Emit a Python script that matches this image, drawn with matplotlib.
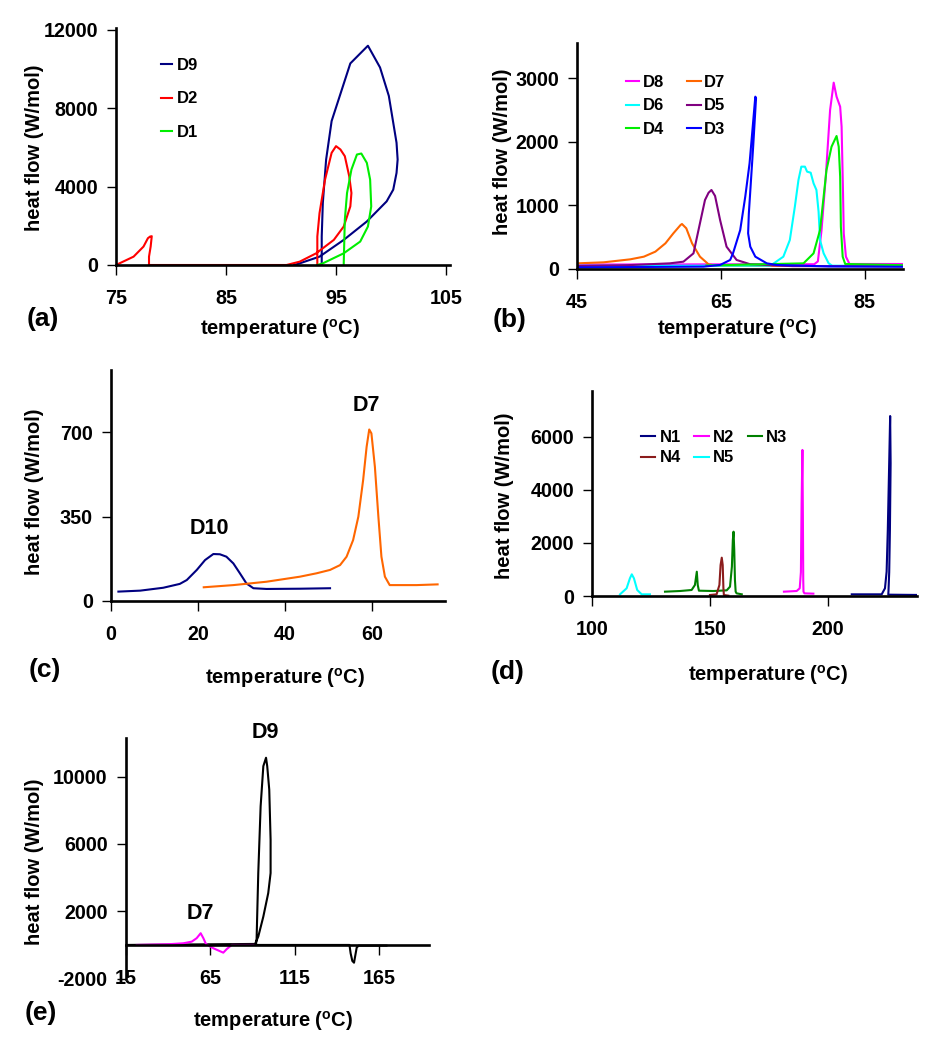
import matplotlib
matplotlib.use('Agg')
import matplotlib.pyplot as plt

plt.rcParams['font.family'] = 'Liberation Sans'
plt.rcParams['font.weight'] = 'bold'
plt.rcParams['mathtext.fontset'] = 'custom'
plt.rcParams['mathtext.rm'] = 'Liberation Sans:bold'
plt.rcParams['mathtext.bf'] = 'Liberation Sans:bold'
plt.rcParams['mathtext.it'] = 'Liberation Sans:bold'
plt.rcParams['axes.unicode_minus'] = False

W, H = 951, 1050

# ---- panel (a) ----
a_d9_t = [91.2, 91.7, 93.5, 95.7, 97.8, 99.6, 100.2, 100.5, 100.6, 100.5, 100.2, 99.8, 99.0, 97.9,
          96.3, 94.6, 94.1, 93.8, 93.7, 93.7]
a_d9_q = [0, 85, 427, 1282, 2222, 3248, 3846, 4701, 5385, 6241, 7266, 8632, 10085, 11195,
          10292, 7351, 5385, 3164, 1453, 0]
a_d2_t = [75.0, 76.6, 77.5, 77.9, 78.1, 78.25, 78.15, 78.0, 78.0, 90.5, 91.7, 93.2, 94.8, 95.7,
          96.3, 96.4, 96.2, 95.8, 95.4, 95.0, 94.6, 94.0, 93.5, 93.3, 93.3]
a_d2_q = [0, 427, 940, 1367, 1453, 1470, 940, 427, 0, 0, 171, 598, 1282, 1966,
          2991, 3675, 4530, 5556, 5897, 6068, 5727, 4359, 2650, 1453, 0]
a_d1_t = [93.3, 93.8, 95.7, 97.2, 97.9, 98.2, 98.1, 97.8, 97.3, 96.9, 96.4, 96.0, 95.8, 95.7, 95.7]
a_d1_q = [0, 85, 598, 1197, 1966, 2991, 4359, 5215, 5692, 5641, 4872, 3675, 2308, 85, 0]

# ---- panel (b) ----
b_d8_t = [45, 78.0, 78.5, 79.0, 79.6, 80.2, 80.7, 81.1, 81.6, 81.8, 82.0, 82.1, 82.4, 82.9, 90.2]
b_d8_q = [70, 75, 120, 600, 1452, 2501, 2931, 2711, 2553, 2239, 1191, 561, 194, 79, 79]
b_d7_t = [45, 48.7, 52.4, 54.3, 55.9, 57.3, 58.4, 59.4, 59.6, 60.2, 61.0, 62.1, 63.3, 64.4, 70, 75]
b_d7_q = [89, 105, 152, 194, 273, 404, 561, 692, 708, 640, 404, 194, 73, 52, 50, 50]
b_d6_t = [45, 71.9, 73.7, 74.6, 75.3, 75.8, 76.2, 76.7, 77.0, 77.5, 77.9, 78.3, 78.6, 78.8,
          79.3, 80.0, 80.5, 90.2]
b_d6_q = [52, 52, 194, 456, 981, 1400, 1610, 1610, 1531, 1515, 1348, 1243, 900, 456,
          247, 89, 52, 50]
b_d5_t = [45, 52, 57.9, 59.8, 61.2, 62.1, 62.8, 63.3, 63.7, 64.2, 64.9, 65.8, 67.2, 69.1, 75, 90.2]
b_d5_q = [47, 60, 89, 115, 246, 719, 1085, 1200, 1243, 1150, 771, 351, 142, 74, 45, 45]
b_d4_t = [63, 76.5, 77.9, 78.8, 79.7, 80.4, 81.1, 81.4, 81.6, 81.7, 81.95, 82.3, 90.2]
b_d4_q = [55, 89, 246, 613, 1557, 1924, 2092, 1924, 1452, 665, 194, 79, 60]
b_d3_t = [45, 62.6, 64.9, 66.3, 66.7, 67.7, 68.4, 69.0, 69.4, 69.8, 69.9, 69.5, 69.2, 68.9,
          68.8, 69.1, 69.8, 71.4, 72.8, 80, 90.2]
b_d3_q = [26, 37, 63, 142, 247, 613, 1137, 1662, 2187, 2711, 2685, 1924, 1400, 876,
          561, 351, 194, 89, 63, 40, 35]

# ---- panel (c) ----
c_d10_t = [1.7, 6.7, 12.0, 15.8, 17.4, 19.7, 21.6, 23.5, 25.0, 26.5, 28.1, 29.6, 31.1, 32.7,
           35.7, 43.4, 50.3]
c_d10_q = [39, 43, 55, 71, 87, 129, 170, 195, 194, 184, 156, 115, 73, 53, 50, 51, 53]
c_d7_t = [21.3, 28.1, 35.7, 43.4, 47.2, 50.3, 52.6, 54.1, 55.6, 56.8, 57.9, 58.7, 59.3, 59.8,
          60.6, 61.4, 62.1, 62.9, 64.0, 70.2, 75.0]
c_d7_q = [57, 66, 80, 101, 115, 129, 149, 184, 253, 350, 502, 640, 712, 696,
          557, 350, 184, 101, 66, 66, 69]

# ---- panel (d) ----
d_n1_t = [210.3, 223.0, 224.4, 225.1, 225.6, 226.1, 226.6, 226.8, 226.5, 226.2, 225.9, 225.8, 237.9]
d_n1_q = [63, 63, 290, 915, 2485, 4618, 6777, 5000, 2485, 900, 200, 50, 40]
d_n2_t = [181.5, 186.9, 188.2, 188.7, 189.0, 189.35, 189.55, 189.7, 189.8, 190.2, 194.0]
d_n2_q = [163, 188, 290, 900, 3500, 5500, 3000, 600, 163, 100, 88]
d_n3_t = [131.0, 137.4, 142.3, 143.7, 144.5, 144.9, 145.4, 151.5, 157.2, 158.6, 159.4, 159.8,
          160.1, 160.4, 160.7, 161.0, 161.4, 163.6]
d_n3_q = [163, 188, 226, 414, 915, 414, 200, 188, 213, 351, 1104, 2108,
          2422, 1732, 602, 163, 100, 63]
d_n4_t = [150.1, 152.9, 154.1, 154.6, 155.1, 155.5, 155.8, 156.0, 157.9]
d_n4_q = [38, 63, 414, 1167, 1443, 1167, 290, 38, 13]
d_n5_t = [111.9, 114.7, 116.1, 116.9, 117.8, 119.2, 121.1, 124.6]
d_n5_q = [63, 290, 667, 817, 667, 226, 63, 63]

# ---- panel (e) ----
e_d9_t = [15, 91.6, 93.5, 96.5, 99.4, 100.8, 100.8, 100.0, 98.8, 98.1, 96.5, 94.9, 93.5, 92.5,
          92.1, 147.5, 148.2, 149.2, 150.2, 151.0, 151.8, 153.0, 169.4]
e_d9_q = [0, 60, 497, 1687, 3081, 4273, 6258, 9238, 10627, 11127, 10627, 8243, 4273, 298,
          0, 0, -500, -950, -1055, -600, -150, -40, -40]
e_d7_t = [21.5, 40, 49.1, 54.1, 57.0, 59.4, 61.0, 62.5, 66.9, 72.8, 74.8, 77.8, 90.6]
e_d7_q = [0, 40, 99, 197, 400, 697, 400, 60, -197, -459, -248, 0, 0]

LW = 1.5
xlab = r'temperature ($^{\mathbf{o}}$C)'
ylab = 'heat flow (W/mol)'

fig = plt.figure(figsize=(W / 100, H / 100), dpi=100)


def make_ax(left, right, bottom, top):
    return fig.add_axes([left / W, 1 - bottom / H, (right - left) / W, (bottom - top) / H])


def style(ax, xlim, ylim, xticks, yticks):
    ax.set_xlim(xlim)
    ax.set_ylim(ylim)
    ax.set_xticks(xticks)
    ax.set_yticks(yticks)
    for s in ['top', 'right']:
        ax.spines[s].set_visible(False)
    for s in ['left', 'bottom']:
        ax.spines[s].set_linewidth(1.9)
    ax.tick_params(axis='x', direction='out', length=7, width=1, pad=10, labelsize=14.2)
    ax.tick_params(axis='y', direction='out', length=6.5, width=1, pad=6.5, labelsize=14.2)
    ax.patch.set_alpha(0)


def ftext(x, y, s, size=14.5, **kw):
    fig.text(x / W, 1 - y / H, s, ha='center', va='center', fontsize=size, fontweight='bold', **kw)


def leg(ax, handles, labels, x, y, **kw):
    ax.legend(handles, labels, loc='upper left', bbox_to_anchor=(x / W, 1 - y / H),
              bbox_transform=fig.transFigure, frameon=False, borderpad=0, borderaxespad=0,
              prop={'weight': 'bold', 'size': 12}, **kw)


# (a)
ax = make_ax(116, 450, 265, 28)
l9, = ax.plot(a_d9_t, a_d9_q, color='#000080', lw=LW)
l2, = ax.plot(a_d2_t, a_d2_q, color='#FF0000', lw=LW)
l1, = ax.plot(a_d1_t, a_d1_q, color='#00EE00', lw=LW)
style(ax, (75, 105.36), (0, 12100), [75, 85, 95, 105], [0, 4000, 8000, 12000])
leg(ax, [l9, l2, l1], ['D9', 'D2', 'D1'], 161, 58,
    handlelength=0.68, handletextpad=0.28, labelspacing=1.1)
ftext(35, 148, ylab, rotation=90)
ftext(280, 329, xlab)
ftext(43, 319, '(a)', size=19)

# (b)
ax = make_ax(577, 903, 269, 43)
p8, = ax.plot(b_d8_t, b_d8_q, color='#FF00FF', lw=LW)
p7, = ax.plot(b_d7_t, b_d7_q, color='#FF6600', lw=LW)
p6, = ax.plot(b_d6_t, b_d6_q, color='#00FFFF', lw=LW)
p5, = ax.plot(b_d5_t, b_d5_q, color='#800080', lw=LW)
p4, = ax.plot(b_d4_t, b_d4_q, color='#00EE00', lw=LW)
p3, = ax.plot(b_d3_t, b_d3_q, color='#0000FF', lw=LW)
style(ax, (45, 90.34), (0, 3555), [45, 65, 85], [0, 1000, 2000, 3000])
leg(ax, [p8, p6, p4, p7, p5, p3], ['D8', 'D6', 'D4', 'D7', 'D5', 'D3'], 626, 75,
    ncol=2, handlelength=0.8, handletextpad=0.2, labelspacing=0.5, columnspacing=1.4)
ftext(503, 152, ylab, rotation=90)
ftext(737, 329, xlab)
ftext(510, 320, '(b)', size=19)

# (c)
ax = make_ax(111, 445, 601, 370)
ax.plot(c_d10_t, c_d10_q, color='#000080', lw=LW)
ax.plot(c_d7_t, c_d7_q, color='#FF6600', lw=LW)
style(ax, (0, 76.7), (0, 959), [0, 20, 40, 60], [0, 350, 700])
ax.text(22.5, 303, 'D10', ha='center', va='center', fontsize=15.5, fontweight='bold')
ax.text(58.7, 810, 'D7', ha='center', va='center', fontsize=15.5, fontweight='bold')
ftext(35, 492, ylab, rotation=90)
ftext(285, 678, xlab)
ftext(45, 670, '(c)', size=19)

# (d)
ax = make_ax(592, 917, 596, 391)
n1, = ax.plot(d_n1_t, d_n1_q, color='#000080', lw=LW)
n2, = ax.plot(d_n2_t, d_n2_q, color='#FF00FF', lw=LW)
n3, = ax.plot(d_n3_t, d_n3_q, color='#008000', lw=LW)
n4, = ax.plot(d_n4_t, d_n4_q, color='#8B1C1C', lw=LW)
n5, = ax.plot(d_n5_t, d_n5_q, color='#00FFFF', lw=LW)
style(ax, (100, 238.0), (0, 7720), [100, 150, 200], [0, 2000, 4000, 6000])
leg(ax, [n1, n4, n2, n5, n3], ['N1', 'N4', 'N2', 'N5', 'N3'], 641, 429.5,
    ncol=3, handlelength=0.86, handletextpad=0.26, labelspacing=0.35, columnspacing=0.8)
ftext(504, 496, ylab, rotation=90)
ftext(768, 675, xlab)
ftext(508, 672, '(d)', size=19)

# (e)
ax = make_ax(125.7, 429, 978.6, 738)
ax.plot(e_d9_t, e_d9_q, color='black', lw=LW)
ax.plot(e_d7_t, e_d7_q, color='#FF00FF', lw=LW)
style(ax, (15, 194.6), (-2000, 12300), [15, 65, 115, 165], [-2000, 2000, 6000, 10000])
ax.spines['bottom'].set_position(('data', 0))
ax.text(97.9, 12650, 'D9', ha='center', va='center', fontsize=15.5, fontweight='bold', clip_on=False)
ax.text(59.5, 1850, 'D7', ha='center', va='center', fontsize=15.5, fontweight='bold')
ftext(35, 862, ylab, rotation=90)
ftext(273, 1021, xlab)
ftext(41, 1013, '(e)', size=19)

fig.savefig('out.png', dpi=100)
